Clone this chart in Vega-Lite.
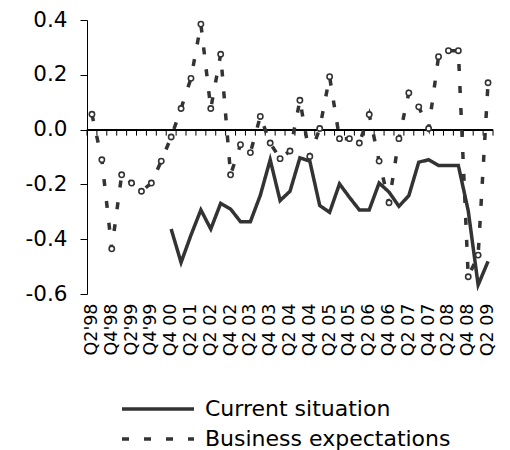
{
  "$schema": "https://vega.github.io/schema/vega-lite/v6.json",
  "autosize": {"type": "none"},
  "padding": {"left": 87, "top": 20, "right": 17, "bottom": 156},
  "width": 406,
  "height": 274,
  "background": "white",
  "config": {
    "view": {"stroke": null},
    "font": "DejaVu Sans",
    "axis": {"labelFont": "DejaVu Sans", "labelColor": "black", "grid": false}
  },
  "data": {
    "values": [
      {"q": "Q2'98", "series": "Business expectations", "value": 0.056},
      {"q": "Q3'98", "series": "Business expectations", "value": -0.11},
      {"q": "Q4'98", "series": "Business expectations", "value": -0.435},
      {"q": "Q1'99", "series": "Business expectations", "value": -0.165},
      {"q": "Q2'99", "series": "Business expectations", "value": -0.195},
      {"q": "Q3'99", "series": "Business expectations", "value": -0.225},
      {"q": "Q4'99", "series": "Business expectations", "value": -0.195},
      {"q": "Q2 00", "series": "Business expectations", "value": -0.115},
      {"q": "Q4 00", "series": "Business expectations", "value": -0.027},
      {"q": "Q1 01", "series": "Business expectations", "value": 0.077},
      {"q": "Q2 01", "series": "Business expectations", "value": 0.187},
      {"q": "Q4 01", "series": "Business expectations", "value": 0.385},
      {"q": "Q2 02", "series": "Business expectations", "value": 0.077},
      {"q": "Q3 02", "series": "Business expectations", "value": 0.275},
      {"q": "Q4 02", "series": "Business expectations", "value": -0.165},
      {"q": "Q1 03", "series": "Business expectations", "value": -0.055},
      {"q": "Q2 03", "series": "Business expectations", "value": -0.084},
      {"q": "Q3 03", "series": "Business expectations", "value": 0.048},
      {"q": "Q4 03", "series": "Business expectations", "value": -0.049},
      {"q": "Q1 04", "series": "Business expectations", "value": -0.106},
      {"q": "Q2 04", "series": "Business expectations", "value": -0.078},
      {"q": "Q3 04", "series": "Business expectations", "value": 0.107},
      {"q": "Q4 04", "series": "Business expectations", "value": -0.098},
      {"q": "Q1 05", "series": "Business expectations", "value": 0.004},
      {"q": "Q2 05", "series": "Business expectations", "value": 0.193},
      {"q": "Q3 05", "series": "Business expectations", "value": -0.033},
      {"q": "Q4 05", "series": "Business expectations", "value": -0.033},
      {"q": "Q1 06", "series": "Business expectations", "value": -0.049},
      {"q": "Q2 06", "series": "Business expectations", "value": 0.055},
      {"q": "Q3 06", "series": "Business expectations", "value": -0.115},
      {"q": "Q4 06", "series": "Business expectations", "value": -0.267},
      {"q": "Q1 07", "series": "Business expectations", "value": -0.033},
      {"q": "Q2 07", "series": "Business expectations", "value": 0.134},
      {"q": "Q3 07", "series": "Business expectations", "value": 0.083},
      {"q": "Q4 07", "series": "Business expectations", "value": 0.004},
      {"q": "Q1 08", "series": "Business expectations", "value": 0.266},
      {"q": "Q2 08", "series": "Business expectations", "value": 0.288},
      {"q": "Q3 08", "series": "Business expectations", "value": 0.288},
      {"q": "Q4 08", "series": "Business expectations", "value": -0.537},
      {"q": "Q1 09", "series": "Business expectations", "value": -0.458},
      {"q": "Q2 09", "series": "Business expectations", "value": 0.171},
      {"q": "Q4 00", "series": "Current situation", "value": -0.363},
      {"q": "Q1 01", "series": "Current situation", "value": -0.485},
      {"q": "Q2 01", "series": "Current situation", "value": -0.385},
      {"q": "Q4 01", "series": "Current situation", "value": -0.293},
      {"q": "Q2 02", "series": "Current situation", "value": -0.363},
      {"q": "Q3 02", "series": "Current situation", "value": -0.269},
      {"q": "Q4 02", "series": "Current situation", "value": -0.29},
      {"q": "Q1 03", "series": "Current situation", "value": -0.336},
      {"q": "Q2 03", "series": "Current situation", "value": -0.336},
      {"q": "Q3 03", "series": "Current situation", "value": -0.24},
      {"q": "Q4 03", "series": "Current situation", "value": -0.11},
      {"q": "Q1 04", "series": "Current situation", "value": -0.259},
      {"q": "Q2 04", "series": "Current situation", "value": -0.225},
      {"q": "Q3 04", "series": "Current situation", "value": -0.103},
      {"q": "Q4 04", "series": "Current situation", "value": -0.115},
      {"q": "Q1 05", "series": "Current situation", "value": -0.277},
      {"q": "Q2 05", "series": "Current situation", "value": -0.302},
      {"q": "Q3 05", "series": "Current situation", "value": -0.198},
      {"q": "Q4 05", "series": "Current situation", "value": -0.247},
      {"q": "Q1 06", "series": "Current situation", "value": -0.293},
      {"q": "Q2 06", "series": "Current situation", "value": -0.293},
      {"q": "Q3 06", "series": "Current situation", "value": -0.195},
      {"q": "Q4 06", "series": "Current situation", "value": -0.228},
      {"q": "Q1 07", "series": "Current situation", "value": -0.28},
      {"q": "Q2 07", "series": "Current situation", "value": -0.241},
      {"q": "Q3 07", "series": "Current situation", "value": -0.119},
      {"q": "Q4 07", "series": "Current situation", "value": -0.11},
      {"q": "Q1 08", "series": "Current situation", "value": -0.131},
      {"q": "Q2 08", "series": "Current situation", "value": -0.131},
      {"q": "Q3 08", "series": "Current situation", "value": -0.131},
      {"q": "Q4 08", "series": "Current situation", "value": -0.296},
      {"q": "Q1 09", "series": "Current situation", "value": -0.567},
      {"q": "Q2 09", "series": "Current situation", "value": -0.481}
    ]
  },
  "layer": [
    {
      "mark": {"type": "rule", "color": "black", "strokeWidth": 1},
      "encoding": {"y": {"datum": 0, "type": "quantitative", "scale": {"domain": [-0.6, 0.4], "nice": false}}}
    },
    {
      "transform": [{"filter": "datum.series === 'Business expectations'"}],
      "mark": {"type": "rule", "color": "black", "strokeWidth": 1},
      "encoding": {
        "x": {"field": "q", "type": "ordinal", "sort": null, "bandPosition": 0, "scale": {"type": "band", "paddingInner": 0, "paddingOuter": 0}},
        "y": {"datum": 0, "type": "quantitative"},
        "y2": {"datum": -0.022}
      }
    },
    {
      "transform": [{"filter": "datum.series === 'Business expectations' && datum.q === 'Q2 09'"}],
      "mark": {"type": "rule", "color": "black", "strokeWidth": 1},
      "encoding": {
        "x": {"field": "q", "type": "ordinal", "sort": null, "bandPosition": 1},
        "y": {"datum": 0, "type": "quantitative"},
        "y2": {"datum": -0.022}
      }
    },
    {
      "mark": {"type": "line", "color": "#333333", "strokeWidth": 3.5, "strokeCap": "butt", "strokeJoin": "miter"},
      "encoding": {
        "x": {
          "field": "q", "type": "ordinal", "sort": null, "bandPosition": 0.5,
          "axis": {
            "title": null, "orient": "bottom", "domain": false, "ticks": false, "tickSize": 0,
            "labelAngle": -90, "labelFontSize": 17.5, "labelPadding": 9,
            "values": ["Q2'98", "Q4'98", "Q2'99", "Q4'99", "Q4 00", "Q2 01", "Q2 02", "Q4 02", "Q2 03", "Q4 03", "Q2 04", "Q4 04", "Q2 05", "Q4 05", "Q2 06", "Q4 06", "Q2 07", "Q4 07", "Q2 08", "Q4 08", "Q2 09"]
          }
        },
        "y": {
          "field": "value", "type": "quantitative",
          "axis": {
            "title": null, "values": [-0.6, -0.5, -0.4, -0.3, -0.2, -0.1, 0, 0.1, 0.2, 0.3, 0.4],
            "labelExpr": "replace(format(datum.value, '.1f'), '−', '-')",
            "labelFontSize": 21.5, "labelPadding": 13, "tickSize": 7,
            "domainColor": "black", "tickColor": "black", "domainWidth": 1, "tickWidth": 1
          }
        },
        "strokeDash": {
          "field": "series", "type": "nominal",
          "scale": {"domain": ["Current situation", "Business expectations"], "range": [[1, 0], [7, 15]]},
          "legend": {
            "title": null, "orient": "none", "legendX": 60, "legendY": 378,
            "direction": "vertical",
            "symbolType": "M-4,0H4", "symbolSize": 324, "symbolStrokeWidth": 3.5, "symbolStrokeColor": "#333333",
            "labelFontSize": 22, "labelColor": "black", "labelFont": "DejaVu Sans", "labelOffset": 36, "labelLimit": 0, "rowPadding": 8
          }
        }
      }
    },
    {
      "transform": [{"filter": "datum.series === 'Business expectations'"}],
      "mark": {"type": "point", "shape": "circle", "filled": true, "fill": "white", "stroke": "#333333", "strokeWidth": 1.6, "size": 28, "opacity": 1},
      "encoding": {
        "x": {"field": "q", "type": "ordinal", "sort": null, "bandPosition": 0.5},
        "y": {"field": "value", "type": "quantitative"}
      }
    }
  ]
}
